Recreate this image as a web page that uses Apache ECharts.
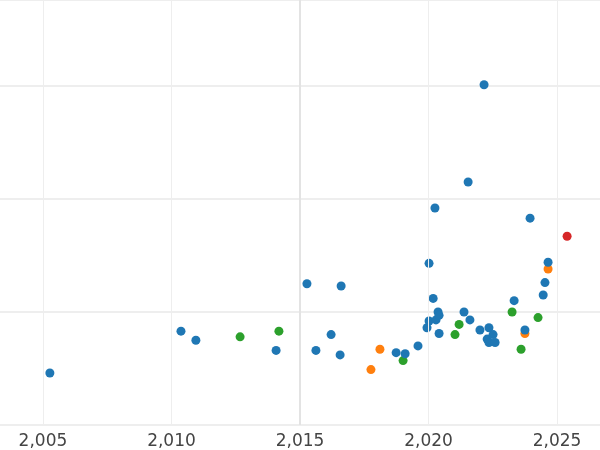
<!DOCTYPE html>
<html>
<head>
<meta charset="utf-8">
<script src="https://cdn.jsdelivr.net/npm/echarts@6/dist/echarts.min.js"></script>
<style>html,body{margin:0;padding:0;background:#fff}#chart{width:600px;height:450px}</style>
</head>
<body>
<div id="chart"></div>
<script>
const yearTicks = [2005, 2010, 2015, 2020, 2025];
const blueX = [2005.27, 2010.37, 2010.95, 2014.07, 2015.27, 2015.62, 2016.21, 2016.56, 2016.6, 2018.74, 2019.09, 2019.59, 2019.94, 2020.02, 2020.02, 2020.18, 2020.25, 2020.29, 2020.37, 2020.41, 2020.41, 2021.38, 2021.61, 2021.54, 2022.0, 2022.16, 2022.35, 2022.51, 2022.28, 2022.35, 2022.59, 2023.33, 2023.75, 2023.95, 2024.46, 2024.53, 2024.65];
const blueY = [0.46, 0.83, 0.75, 0.66, 1.25, 0.66, 0.8, 0.62, 1.23, 0.64, 0.63, 0.7, 0.86, 0.92, 1.43, 1.12, 1.92, 0.93, 1.0, 0.97, 0.81, 1.0, 0.93, 2.15, 0.84, 3.01, 0.86, 0.8, 0.76, 0.73, 0.73, 1.1, 0.84, 1.83, 1.15, 1.26, 1.44];
const orangeX = [2017.76, 2018.11, 2023.75, 2024.65];
const orangeY = [0.49, 0.67, 0.81, 1.38];
const greenX = [2012.67, 2014.18, 2019.01, 2021.03, 2021.19, 2023.25, 2023.6, 2024.26];
const greenY = [0.78, 0.83, 0.57, 0.8, 0.89, 1.0, 0.67, 0.95];
const redX = [2025.39];
const redY = [1.67];

const chart = echarts.init(document.getElementById("chart"));

function pts(xs, ys) {
  return xs.map((x, i) => [x, ys[i]]);
}

function scatter(xs, ys, color) {
  return {
    type: "scatter",
    data: pts(xs, ys),
    symbolSize: 9,
    itemStyle: { color: color, opacity: 1 }
  };
}

const blue = scatter(blueX, blueY, "#1f77b4");
blue.z = 3;
blue.markLine = {
  silent: true,
  symbol: "none",
  label: { show: false },
  animation: false,
  data: yearTicks.map((y) => ({
    xAxis: y,
    lineStyle: { color: y === 2015 ? "#e3e3e3" : "#eeeeee", width: y === 2015 ? 2 : 1, type: "solid" }
  }))
};

chart.setOption({
  animation: false,
  grid: { left: 0, right: 0, top: 0, bottom: 23 },
  xAxis: {
    type: "value",
    min: 2003.33,
    max: 2026.67,
    axisLine: { show: false },
    axisTick: { show: false },
    splitLine: { show: false },
    axisLabel: {
      customValues: yearTicks,
      color: "#444",
      fontSize: 17,
      fontFamily: "DejaVu Sans",
      margin: 8
    }
  },
  yAxis: {
    type: "value",
    min: 0,
    max: 3.76,
    interval: 1,
    axisLine: { show: false },
    axisTick: { show: false },
    axisLabel: { show: false },
    splitLine: { lineStyle: { color: "#e8e8e8", width: 1.5 } }
  },
  series: [
    blue,
    scatter(orangeX, orangeY, "#ff7f0e"),
    scatter(greenX, greenY, "#2ca02c"),
    scatter(redX, redY, "#d62728")
  ]
});
</script>
</body>
</html>
